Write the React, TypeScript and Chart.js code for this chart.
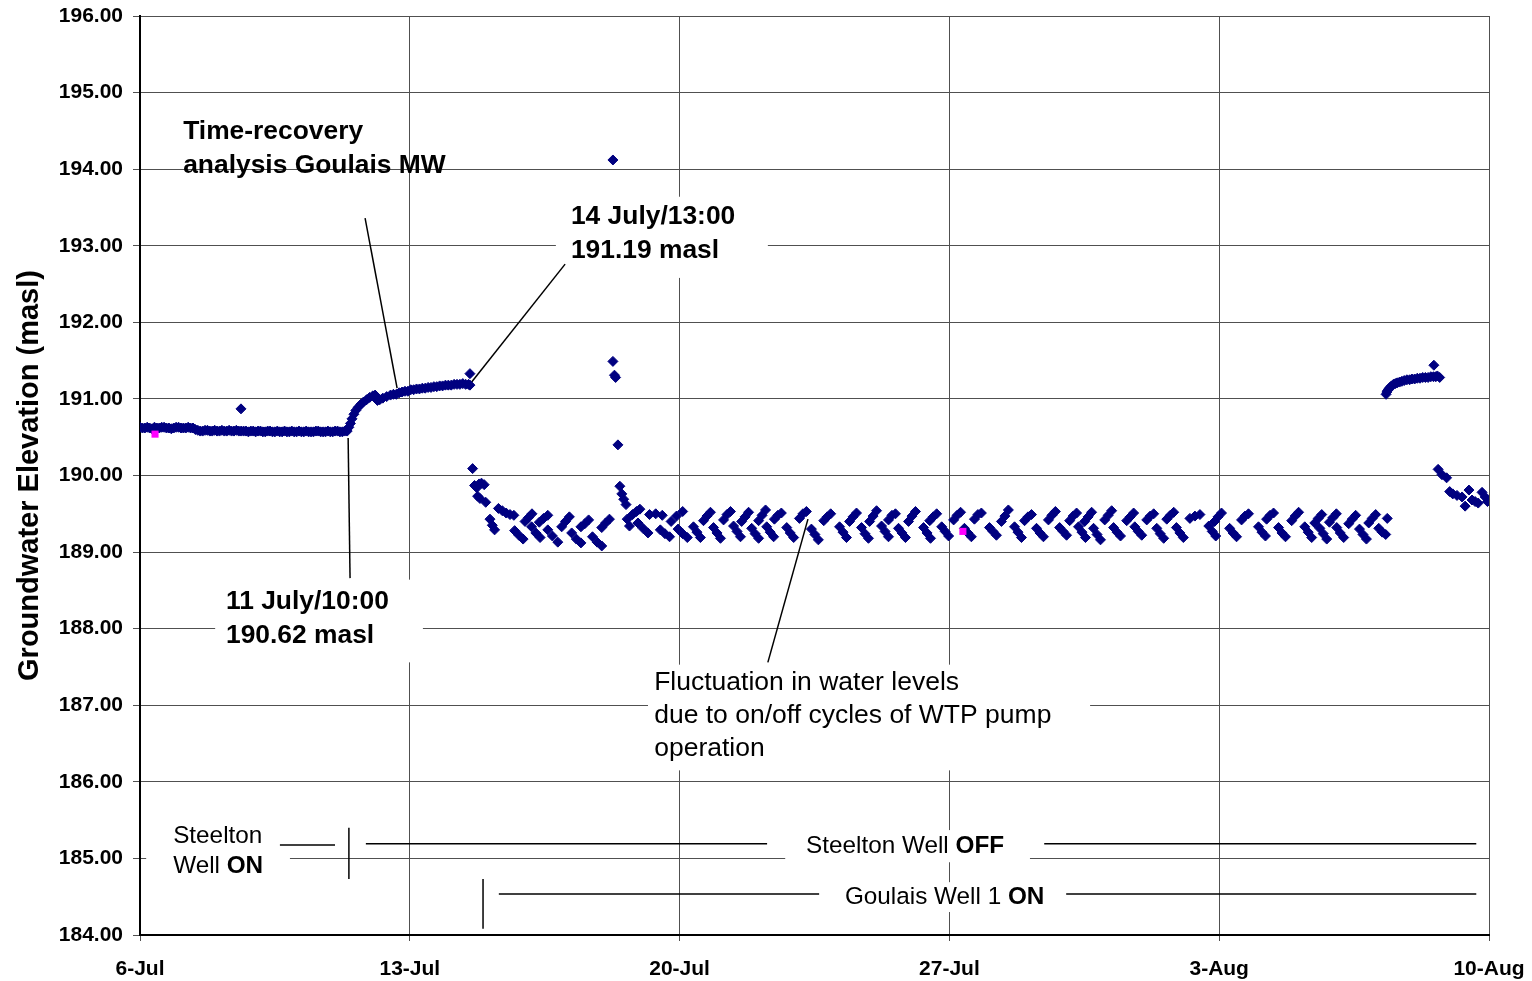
import React, { useEffect, useRef } from 'react';
import { Chart, registerables } from 'chart.js';

Chart.register(...registerables);

const FONT = 'Arial, "Liberation Sans", Helvetica, sans-serif';

// X axis: days since 6-Jul 00:00
const tickDays = [0, 7, 14, 21, 28, 35];
const tickLabels = ['6-Jul', '13-Jul', '20-Jul', '27-Jul', '3-Aug', '10-Aug'];
const yMin = 184;
const yMax = 196;
const yTitle = 'Groundwater Elevation (masl)';

// [day, elevation masl]
const staticLevels: number[][] = [
  [0, 190.63], [0.0625, 190.62], [0.125, 190.62], [0.1875, 190.63], [0.25, 190.62], [0.3125, 190.61],
  [0.375, 190.63], [0.4375, 190.62], [0.5, 190.62], [0.5625, 190.63], [0.625, 190.63], [0.6875, 190.62],
  [0.75, 190.62], [0.8125, 190.61], [0.875, 190.62], [0.9375, 190.63], [1.0, 190.63], [1.0625, 190.62],
  [1.125, 190.62], [1.1875, 190.62], [1.25, 190.63], [1.3125, 190.62], [1.375, 190.62], [1.4375, 190.6],
  [1.5, 190.59], [1.5625, 190.58], [1.625, 190.58], [1.6875, 190.59], [1.75, 190.59], [1.8125, 190.58],
  [1.875, 190.58], [1.9375, 190.59], [2.0, 190.58], [2.0625, 190.58], [2.125, 190.59], [2.1875, 190.58],
  [2.25, 190.58], [2.3125, 190.59], [2.375, 190.58], [2.4375, 190.58], [2.5, 190.59], [2.5625, 190.58],
  [2.625, 190.58], [2.6875, 190.58], [2.75, 190.58], [2.8125, 190.57], [2.875, 190.58], [2.9375, 190.58],
  [3.0, 190.57], [3.0625, 190.58], [3.125, 190.58], [3.1875, 190.57], [3.25, 190.57], [3.3125, 190.58],
  [3.375, 190.58], [3.4375, 190.57], [3.5, 190.57], [3.5625, 190.58], [3.625, 190.57], [3.6875, 190.57],
  [3.75, 190.58], [3.8125, 190.57], [3.875, 190.57], [3.9375, 190.58], [4.0, 190.57], [4.0625, 190.57],
  [4.125, 190.58], [4.1875, 190.57], [4.25, 190.57], [4.3125, 190.58], [4.375, 190.57], [4.4375, 190.57],
  [4.5, 190.57], [4.5625, 190.58], [4.625, 190.58], [4.6875, 190.57], [4.75, 190.57], [4.8125, 190.57],
  [4.875, 190.58], [4.9375, 190.57], [5.0, 190.57], [5.0625, 190.58], [5.125, 190.58], [5.1875, 190.57],
  [5.25, 190.57], [5.3125, 190.58], [5.375, 190.58],
];

const recoveryLevels: number[][] = [
  [5.42, 190.63], [5.46, 190.68], [5.5, 190.74], [5.55, 190.8], [5.6, 190.85], [5.66, 190.89],
  [5.73, 190.93], [5.8, 190.96], [5.88, 190.99], [5.96, 191.02], [6.04, 191.04], [6.1, 191.05],
  [6.16, 190.98], [6.22, 190.99], [6.3, 191.01], [6.4, 191.03], [6.5, 191.05], [6.575, 191.06],
  [6.65, 191.06], [6.725, 191.08], [6.8, 191.09], [6.875, 191.1], [6.95, 191.1], [7.025, 191.12],
  [7.1, 191.12], [7.175, 191.13], [7.25, 191.13], [7.325, 191.14], [7.4, 191.14], [7.475, 191.15],
  [7.55, 191.15], [7.625, 191.16], [7.7, 191.16], [7.775, 191.17], [7.85, 191.17], [7.925, 191.18],
  [8.0, 191.18], [8.075, 191.18], [8.15, 191.19], [8.225, 191.19], [8.3, 191.19], [8.375, 191.2],
  [8.45, 191.19], [8.525, 191.19], [8.56, 191.18],
];

const earlyPumping: number[][] = [
  [8.63, 190.09],
  [8.68, 189.87], [8.74, 189.84], [8.8, 189.89], [8.86, 189.9], [8.93, 189.88],
  [8.76, 189.73], [8.82, 189.7], [8.97, 189.65],
  [9.08, 189.43], [9.14, 189.35], [9.2, 189.29],
  [9.3, 189.57], [9.4, 189.54], [9.5, 189.51], [9.6, 189.49], [9.7, 189.48],
  [9.72, 189.28], [9.83, 189.22], [9.94, 189.17],
  [9.99, 189.4], [10.08, 189.45], [10.17, 189.5],
  [10.16, 189.33], [10.27, 189.25], [10.38, 189.19],
  [10.36, 189.39], [10.47, 189.44], [10.58, 189.48],
  [10.58, 189.29], [10.7, 189.21], [10.84, 189.13],
  [10.94, 189.33], [11.04, 189.4], [11.14, 189.46],
  [11.2, 189.25], [11.32, 189.17], [11.44, 189.12],
  [11.44, 189.33], [11.54, 189.37], [11.64, 189.42],
  [11.74, 189.2], [11.86, 189.13], [11.98, 189.08],
  [11.98, 189.32], [12.08, 189.38], [12.18, 189.43],
];

const surgeLevels: number[][] = [
  [12.27, 194.12], [12.27, 191.49], [12.31, 191.31], [12.34, 191.28], [12.4, 190.4],
  [12.45, 189.86], [12.5, 189.76], [12.55, 189.69], [12.61, 189.62],
  [12.64, 189.43], [12.7, 189.34],
  [12.78, 189.49], [12.88, 189.53], [12.97, 189.56],
  [12.92, 189.38], [13.05, 189.31], [13.18, 189.25],
  [13.22, 189.49], [13.38, 189.5], [13.55, 189.48],
  [13.5, 189.29], [13.62, 189.24], [13.74, 189.2],
  [13.78, 189.4], [13.92, 189.47], [14.08, 189.53],
  [13.96, 189.3], [14.08, 189.24], [14.2, 189.19],
];

const pumpOffLevels: number[][] = [
  [14.62, 189.41], [14.71, 189.47], [14.8, 189.52],
  [15.14, 189.42], [15.23, 189.49], [15.32, 189.53],
  [15.61, 189.4], [15.7, 189.46], [15.79, 189.52],
  [16.05, 189.41], [16.14, 189.48], [16.23, 189.55],
  [16.46, 189.43], [16.55, 189.48], [16.64, 189.51],
  [17.11, 189.44], [17.2, 189.5], [17.29, 189.53],
  [17.74, 189.41], [17.83, 189.46], [17.92, 189.5],
  [18.41, 189.4], [18.5, 189.46], [18.59, 189.51],
  [18.93, 189.4], [19.02, 189.47], [19.11, 189.54],
  [19.42, 189.42], [19.51, 189.48], [19.6, 189.5],
  [19.94, 189.4], [20.03, 189.47], [20.12, 189.53],
  [20.49, 189.41], [20.58, 189.46], [20.67, 189.5],
  [21.11, 189.42], [21.2, 189.48], [21.29, 189.52],
  [21.65, 189.43], [21.74, 189.49], [21.83, 189.51],
  [22.35, 189.4], [22.44, 189.47], [22.53, 189.55],
  [22.95, 189.41], [23.04, 189.46], [23.13, 189.49],
  [23.57, 189.42], [23.66, 189.48], [23.75, 189.53],
  [24.12, 189.41], [24.21, 189.47], [24.3, 189.51],
  [24.51, 189.4], [24.6, 189.46], [24.69, 189.52],
  [25.03, 189.42], [25.12, 189.48], [25.21, 189.54],
  [25.6, 189.41], [25.69, 189.46], [25.78, 189.51],
  [26.12, 189.42], [26.21, 189.47], [26.3, 189.5],
  [26.64, 189.43], [26.73, 189.48], [26.82, 189.52],
  [27.24, 189.44], [27.37, 189.47], [27.5, 189.49],
  [27.88, 189.4], [27.97, 189.46], [28.06, 189.51],
  [28.58, 189.42], [28.67, 189.47], [28.76, 189.5],
  [29.23, 189.43], [29.32, 189.48], [29.41, 189.51],
  [29.88, 189.41], [29.97, 189.47], [30.06, 189.52],
  [30.48, 189.38], [30.57, 189.44], [30.66, 189.49],
  [30.86, 189.39], [30.95, 189.45], [31.04, 189.5],
  [31.36, 189.37], [31.45, 189.43], [31.54, 189.48],
  [31.88, 189.38], [31.97, 189.44], [32.06, 189.49],
  [32.36, 189.44],
];

const pumpOnLevels: number[][] = [
  [14.36, 189.33], [14.45, 189.26], [14.54, 189.19],
  [14.88, 189.32], [14.97, 189.25], [15.06, 189.18],
  [15.4, 189.34], [15.49, 189.27], [15.58, 189.2],
  [15.87, 189.31], [15.96, 189.24], [16.05, 189.18],
  [16.26, 189.33], [16.35, 189.26], [16.44, 189.2],
  [16.78, 189.32], [16.87, 189.25], [16.96, 189.19],
  [17.42, 189.3], [17.51, 189.23], [17.6, 189.16],
  [18.15, 189.33], [18.24, 189.26], [18.33, 189.19],
  [18.72, 189.32], [18.81, 189.24], [18.9, 189.18],
  [19.24, 189.34], [19.33, 189.27], [19.42, 189.2],
  [19.68, 189.31], [19.77, 189.25], [19.86, 189.19],
  [20.33, 189.32], [20.42, 189.25], [20.51, 189.18],
  [20.8, 189.33], [20.89, 189.27], [20.98, 189.21],
  [21.39, 189.31], [21.48, 189.25], [21.57, 189.2],
  [22.04, 189.32], [22.13, 189.27], [22.22, 189.22],
  [22.69, 189.33], [22.78, 189.26], [22.87, 189.19],
  [23.26, 189.31], [23.35, 189.25], [23.44, 189.2],
  [23.86, 189.32], [23.95, 189.27], [24.04, 189.22],
  [24.35, 189.33], [24.44, 189.26], [24.53, 189.19],
  [24.74, 189.31], [24.83, 189.23], [24.92, 189.16],
  [25.26, 189.32], [25.35, 189.26], [25.44, 189.21],
  [25.81, 189.33], [25.9, 189.27], [25.99, 189.22],
  [26.38, 189.31], [26.47, 189.24], [26.56, 189.18],
  [26.89, 189.32], [26.98, 189.25], [27.07, 189.19],
  [27.73, 189.34], [27.82, 189.27], [27.91, 189.21],
  [28.27, 189.31], [28.36, 189.25], [28.45, 189.2],
  [29.02, 189.33], [29.11, 189.26], [29.2, 189.21],
  [29.54, 189.32], [29.63, 189.25], [29.72, 189.2],
  [30.22, 189.33], [30.31, 189.26], [30.4, 189.19],
  [30.61, 189.31], [30.7, 189.24], [30.79, 189.17],
  [31.05, 189.32], [31.14, 189.25], [31.23, 189.19],
  [31.64, 189.3], [31.73, 189.23], [31.82, 189.17],
  [32.14, 189.31], [32.23, 189.26], [32.32, 189.23],
];

const lateRecovery: number[][] = [
  [32.33, 191.06], [32.35, 191.09], [32.37, 191.11], [32.4, 191.13], [32.43, 191.15], [32.47, 191.17],
  [32.52, 191.19], [32.57, 191.2], [32.62, 191.21], [32.68, 191.22], [32.74, 191.23], [32.8, 191.24],
  [32.87, 191.25], [32.94, 191.25], [33.0, 191.26], [33.07, 191.26], [33.14, 191.27], [33.21, 191.27],
  [33.28, 191.28], [33.35, 191.28], [33.42, 191.28], [33.49, 191.29], [33.56, 191.29], [33.62, 191.29],
  [33.66, 191.3], [33.72, 191.28],
];

const lateDrawdown: number[][] = [
  [33.68, 190.08], [33.78, 190.01], [33.9, 189.97], [33.98, 189.79], [34.06, 189.76],
  [34.17, 189.74], [34.3, 189.72], [34.38, 189.6], [34.48, 189.81], [34.56, 189.68],
  [34.64, 189.66], [34.72, 189.64], [34.82, 189.78], [34.9, 189.72], [34.96, 189.66],
];

const outlierLevels: number[][] = [
  [2.62, 190.87], [8.56, 191.33], [33.57, 191.44],
];

const flaggedLevels: number[][] = [
  [0.39, 190.54], [21.35, 189.27],
];

// ---- annotation layout (data coordinates) ----
type Run = [string, boolean];
const textBlocks: { x: number; y: number; size: number; gap: number; lines: Run[][] }[] = [
  { x: 1.12, y: 194.485, size: 26.4, gap: 34, lines: [[['Time-recovery', true]], [['analysis Goulais MW', true]]] },
  { x: 11.18, y: 193.375, size: 26.4, gap: 34, lines: [[['14 July/13:00', true]], [['191.19 masl', true]]] },
  { x: 2.23, y: 188.348, size: 26.4, gap: 34, lines: [[['11 July/10:00', true]], [['190.62 masl', true]]] },
  {
    x: 13.34, y: 187.3, size: 26.5, gap: 33,
    lines: [[['Fluctuation in water levels', false]], [['due to on/off cycles of WTP pump', false]], [['operation', false]]],
  },
  { x: 0.86, y: 185.293, size: 24.3, gap: 30, lines: [[['Steelton', false]], [['Well ', false], ['ON', true]]] },
  { x: 17.28, y: 185.162, size: 24.3, gap: 30, lines: [[['Steelton Well ', false], ['OFF', true]]] },
  { x: 18.29, y: 184.496, size: 24.3, gap: 30, lines: [[['Goulais Well 1 ', false], ['ON', true]]] },
];

const maskBoxes: number[][] = [
  [10.79, 193.64, 16.29, 192.58],
  [1.95, 188.64, 7.34, 187.56],
  [13.18, 187.53, 24.65, 186.15],
  [0.16, 185.53, 3.89, 184.69],
  [16.74, 185.37, 23.09, 184.95],
  [17.9, 184.69, 23.87, 184.3],
];

const leaderLines: number[][] = [
  [5.84, 193.36, 6.67, 191.14],
  [11.03, 192.76, 8.59, 191.21],
  [5.4, 190.49, 5.45, 188.66],
  [17.33, 189.43, 16.29, 187.56],
  // pumping-status bars
  [3.63, 185.175, 5.06, 185.175],
  [5.42, 185.4, 5.42, 184.73],
  [5.86, 185.19, 16.27, 185.19],
  [23.46, 185.19, 34.67, 185.19],
  [8.9, 184.73, 8.9, 184.08],
  [9.31, 184.535, 17.62, 184.535],
  [24.03, 184.535, 34.67, 184.535],
];

const toXY = (arr: number[][]) => arr.map(([x, y]) => ({ x, y }));

const annotationPlugin = {
  id: 'chartAnnotations',
  beforeDatasetsDraw(chart: any) {
    const { ctx } = chart;
    const xs = chart.scales.x;
    const ys = chart.scales.y;
    const px = (d: number) => xs.getPixelForValue(d);
    const py = (v: number) => ys.getPixelForValue(v);
    ctx.save();
    ctx.fillStyle = '#ffffff';
    for (const [x1, y1, x2, y2] of maskBoxes) {
      const a = px(x1), b = py(y1), c = px(x2), d = py(y2);
      ctx.fillRect(a, b, c - a, d - b);
    }
    ctx.strokeStyle = '#000000';
    ctx.lineWidth = 1.5;
    for (const [x1, y1, x2, y2] of leaderLines) {
      ctx.beginPath();
      ctx.moveTo(px(x1), py(y1));
      ctx.lineTo(px(x2), py(y2));
      ctx.stroke();
    }
    ctx.fillStyle = '#000000';
    ctx.textBaseline = 'middle';
    ctx.textAlign = 'left';
    for (const t of textBlocks) {
      let yy = py(t.y);
      for (const line of t.lines) {
        let xx = px(t.x);
        for (const [txt, bold] of line) {
          ctx.font = `${bold ? 'bold ' : ''}${t.size}px ${FONT}`;
          ctx.fillText(txt, xx, yy);
          xx += ctx.measureText(txt).width;
        }
        yy += t.gap;
      }
    }
    ctx.restore();
  },
};

export default function App() {
  const canvasRef = useRef<HTMLCanvasElement | null>(null);

  useEffect(() => {
    document.body.style.margin = '0';
    const canvas = canvasRef.current;
    if (!canvas) return;
    const mainSeries = [
      ...staticLevels, ...recoveryLevels, ...earlyPumping, ...surgeLevels,
      ...pumpOffLevels, ...pumpOnLevels, ...lateRecovery, ...lateDrawdown, ...outlierLevels,
    ];
    const chart = new Chart(canvas, {
      type: 'scatter',
      data: {
        datasets: [
          {
            data: toXY(flaggedLevels),
            pointStyle: 'rect',
            pointRadius: 5,
            backgroundColor: '#FF00FF',
            borderColor: '#FF00FF',
            borderWidth: 0,
            showLine: false,
          },
          {
            data: toXY(mainSeries),
            pointStyle: 'rectRot',
            pointRadius: 5,
            backgroundColor: '#000080',
            borderColor: '#000080',
            borderWidth: 1,
            showLine: false,
          },
        ],
      },
      options: {
        animation: false,
        responsive: false,
        maintainAspectRatio: false,
        layout: { padding: { left: 0, right: 43, top: 16, bottom: 0 } },
        plugins: { legend: { display: false }, tooltip: { enabled: false } },
        scales: {
          x: {
            type: 'linear',
            min: tickDays[0],
            max: tickDays[tickDays.length - 1],
            afterFit: (s: any) => { s.height = 46; s.paddingLeft = 0; s.paddingRight = 0; },
            ticks: {
              stepSize: 7,
              autoSkip: false,
              maxRotation: 0,
              padding: 16,
              color: '#000',
              font: { family: FONT, size: 21, weight: 'bold' },
              callback: (v: any) => {
                const i = tickDays.indexOf(Number(v));
                return i >= 0 ? tickLabels[i] : '';
              },
            },
            grid: { color: '#505050', lineWidth: 1, tickLength: 6 },
            border: { color: '#000', width: 2 },
          },
          y: {
            min: yMin,
            max: yMax,
            afterFit: (s: any) => { s.width = 140; s.paddingTop = 0; s.paddingBottom = 0; },
            ticks: {
              stepSize: 1,
              padding: 10,
              color: '#000',
              font: { family: FONT, size: 21, weight: 'bold' },
              callback: (v: any) => Number(v).toFixed(2),
            },
            grid: { color: '#505050', lineWidth: 1, tickLength: 7 },
            border: { color: '#000', width: 2 },
            title: {
              display: true,
              text: yTitle,
              color: '#000',
              font: { family: FONT, size: 29, weight: 'bold' },
              padding: { top: 13, bottom: 0 },
            },
          },
        },
      },
      plugins: [annotationPlugin],
    } as any);
    return () => chart.destroy();
  }, []);

  return (
    <div style={{ width: 1532, height: 981, position: 'relative', background: '#fff' }}>
      <canvas ref={canvasRef} width={1532} height={981} style={{ display: 'block' }} />
    </div>
  );
}
